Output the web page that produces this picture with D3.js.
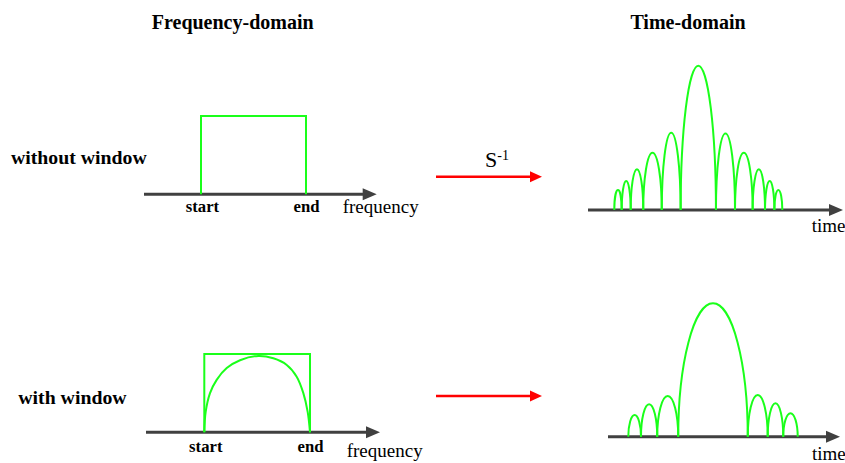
<!DOCTYPE html>
<html>
<head>
<meta charset="utf-8">
<script src="https://cdn.jsdelivr.net/npm/d3@7"></script>
<style>
  html, body { margin: 0; padding: 0; background: #fff; }
  svg { display: block; }
  text { font-family: "Liberation Serif", "Times New Roman", serif; fill: #000; }
</style>
</head>
<body>
<svg id="chart" width="845" height="463"></svg>
<script>
// ---------------- data ----------------
const columnTitles = ["Frequency-domain", "Time-domain"];
const rowLabels = ["without window", "with window"];
const bandEdges = [0, 1];                // start, end of the frequency band
const bandLabels = ["start", "end"];
const freqAxisLabel = "frequency";
const timeAxisLabel = "time";
const transformLabel = "S";
const transformSup = "-1";

// window shape (frequency units, relative amplitude)
const windowX = [0, 0.013, 0.054, 0.117, 0.212, 0.338, 0.511, 0.653, 0.78, 0.874, 0.937, 0.978, 1];
const windowY = [0, 0.26, 0.50, 0.67, 0.82, 0.92, 0.975, 0.945, 0.86, 0.71, 0.50, 0.26, 0];

// time-domain lobes: zero crossings and peak heights
const lobeEdgesNoWindow = [-4.76, -4.34, -3.83, -3.12, -2.07, -1, 1, 2.08, 3.08, 3.78, 4.31, 4.76];
const lobePeaksNoWindow = [0.139, 0.201, 0.284, 0.397, 0.536, 1, 0.531, 0.397, 0.282, 0.201, 0.139];
const lobeEdgesWindow = [-4.8, -4.08, -3.16, -1.97, 1.97, 3.1, 3.98, 4.8];
const lobePeaksWindow = [0.15, 0.225, 0.282, 0.924, 0.289, 0.231, 0.162];

// ---------------- layout ----------------
const svg = d3.select("#chart");
const GREEN = "#1aff1a", AXIS = "#404040", RED = "#ff0000";

const rows = [
  { label: rowLabels[0], labelX: 11, labelY: 164,
    freq: { x0: 201, x1: 306, base: 194.3, top: 116, ax0: 144, ax1: 376.7, windowed: false,
            lblY: 211.7, fqX: 342.7, fqY: 213.3 },
    time: { cx: 698.3, unit: 17.65, base: 210, height: 144.3, ax0: 588, ax1: 843,
            edges: lobeEdgesNoWindow, peaks: lobePeaksNoWindow, tX: 811.7, tY: 231.7 },
    arrowY: 176.7, showS: true },
  { label: rowLabels[1], labelX: 18.3, labelY: 404,
    freq: { x0: 204.3, x1: 310, base: 432.3, top: 354, ax0: 146, ax1: 380, windowed: true,
            lblY: 451.7, fqX: 346.7, fqY: 457.3 },
    time: { cx: 713, unit: 17.65, base: 436.7, height: 144.3, ax0: 608, ax1: 840,
            edges: lobeEdgesWindow, peaks: lobePeaksWindow, tX: 812, tY: 460 },
    arrowY: 396, showS: false }
];

// column titles
svg.append("text").attr("x", 232.7).attr("y", 29).attr("text-anchor", "middle")
  .attr("font-size", 20).attr("font-weight", "bold").text(columnTitles[0]);
svg.append("text").attr("x", 688).attr("y", 29).attr("text-anchor", "middle")
  .attr("font-size", 20).attr("font-weight", "bold").text(columnTitles[1]);

function axisArrow(g, x0, x1, y, color, width, headLen, headHalf) {
  g.append("line").attr("x1", x0).attr("x2", x1 - headLen + 1).attr("y1", y).attr("y2", y)
    .attr("stroke", color).attr("stroke-width", width);
  g.append("path")
    .attr("d", `M${x1},${y} L${x1 - headLen},${y - headHalf} L${x1 - headLen},${y + headHalf} Z`)
    .attr("fill", color);
}

rows.forEach(r => {
  const g = svg.append("g");

  // row label
  g.append("text").attr("x", r.labelX).attr("y", r.labelY)
    .attr("font-size", 19.8).attr("font-weight", "bold")
    .text(r.label);

  // ---- frequency panel ----
  const f = r.freq;
  const fx = d3.scaleLinear().domain([0, 1]).range([f.x0, f.x1]);
  const fy = d3.scaleLinear().domain([0, 1]).range([f.base, f.top]);

  axisArrow(g, f.ax0, f.ax1, f.base, AXIS, 3, 14, 6);

  const rectPts = [[bandEdges[0], 0], [bandEdges[0], 1], [bandEdges[1], 1], [bandEdges[1], 0]];
  g.append("path")
    .attr("d", d3.line().x(d => fx(d[0])).y(d => fy(d[1]))(rectPts))
    .attr("fill", "none").attr("stroke", GREEN).attr("stroke-width", 2);

  if (f.windowed) {
    const pts = windowX.map((x, i) => [x, windowY[i]]);
    g.append("path")
      .attr("d", d3.line().x(d => fx(d[0])).y(d => fy(d[1])).curve(d3.curveCatmullRom.alpha(0.5))(pts))
      .attr("fill", "none").attr("stroke", GREEN).attr("stroke-width", 2);
  }

  bandEdges.forEach((b, i) => {
    g.append("text").attr("x", fx(b) + (i === 0 ? 1.5 : 0.5)).attr("y", f.lblY)
      .attr("text-anchor", "middle").attr("font-size", 16.7).attr("font-weight", "bold")
      .text(bandLabels[i]);
  });
  g.append("text").attr("x", f.fqX).attr("y", f.fqY).attr("font-size", 19)
    .text(freqAxisLabel);

  // ---- red transform arrow ----
  axisArrow(g, 436, 542, r.arrowY, RED, 2.5, 12, 5.5);
  if (r.showS) {
    const t = g.append("text").attr("x", 485).attr("y", 166.7).attr("font-size", 22);
    t.append("tspan").text(transformLabel);
    t.append("tspan").attr("font-size", 14).attr("dy", -7).text(transformSup);
  }

  // ---- time panel ----
  const tm = r.time;
  const tx = d3.scaleLinear().domain([-1, 1]).range([tm.cx - tm.unit, tm.cx + tm.unit]);
  const ty = d3.scaleLinear().domain([0, 1]).range([tm.base, tm.base - tm.height]);

  axisArrow(g, tm.ax0, tm.ax1, tm.base, AXIS, 3, 14, 6);

  tm.peaks.forEach((p, i) => {
    const x0 = tx(tm.edges[i]), x1 = tx(tm.edges[i + 1]);
    const rx = (x1 - x0) / 2, ry = ty(0) - ty(p);
    g.append("path")
      .attr("d", `M${x0},${ty(0)} A${rx},${ry} 0 0 1 ${x1},${ty(0)}`)
      .attr("fill", "none").attr("stroke", GREEN).attr("stroke-width", 2);
  });

  g.append("text").attr("x", tm.tX).attr("y", tm.tY).attr("font-size", 19).text(timeAxisLabel);
});
</script>
</body>
</html>
